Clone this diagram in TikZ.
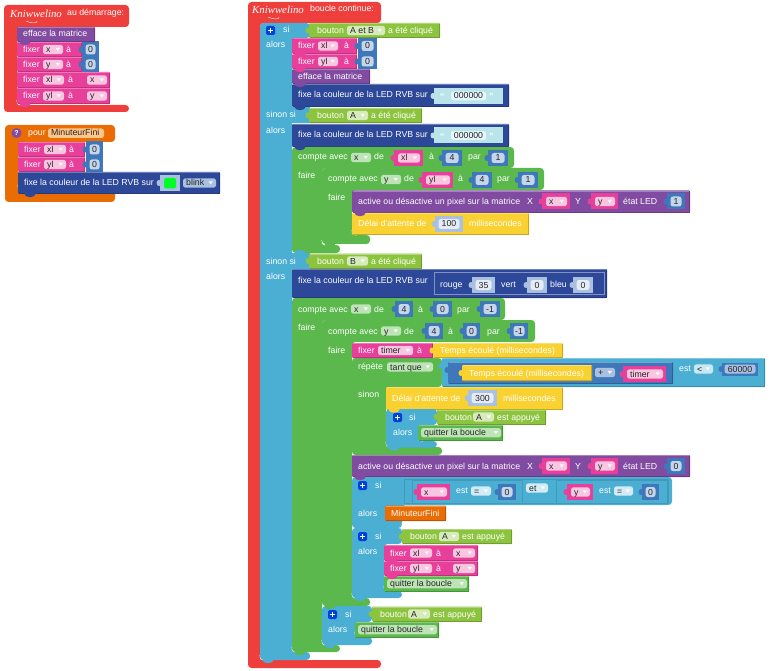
\documentclass[tikz,border=0pt]{standalone}
\usepackage{fontspec}
\setmainfont{Liberation Sans}
\newfontfamily\logofont{Liberation Serif}
\usepackage{tikz}
\definecolor{kred}{HTML}{EF3F3C}
\definecolor{kcyan}{HTML}{4BAED3}
\definecolor{kgreen}{HTML}{5BB84C}
\definecolor{klime}{HTML}{8DC43F}
\definecolor{kpink}{HTML}{E8409A}
\definecolor{kpurple}{HTML}{804BA0}
\definecolor{kblue}{HTML}{2D4899}
\definecolor{kyellow}{HTML}{F9D130}
\definecolor{korange}{HTML}{E96C05}
\definecolor{knum}{HTML}{3F78BA}
\definecolor{knumlight}{HTML}{A9C0E0}
\definecolor{khex}{HTML}{B8E4EA}
\tikzset{
  lbl/.style={anchor=base west, inner sep=0pt, text=white, font=\fontsize{8.75}{10}\selectfont},
  fieldlbl/.style={lbl, text=black!85},
  numlbl/.style={fieldlbl, anchor=base},
  logolbl/.style={lbl, font=\logofont\itshape\fontsize{10.8}{12}\selectfont},
  tri/.style={fill=white, opacity=0.85},
}
\newcounter{nd}
% text of a block
\newcommand{\txt}[3]{\stepcounter{nd}\node[lbl] (t\arabic{nd}) at ({#1},{#2+3}) {#3};}
% plain block with light top and dark bottom edge
\newcommand{\bk}[5]{\fill[#1,rounded corners=1pt] (#2,#3) rectangle (#4,#5);
  \draw[#1!70!white,line width=0.5pt] (#2+1,#3+.3) -- (#4-1,#3+.3);
  \draw[#1!80!black,line width=0.5pt] (#2+1,#5-.3) -- (#4-.3,#5-.3) -- (#4-.3,#3+1);}
% C shaped block: x1 y1 head-x head-y arm-x bar-top bar-bottom bar-x
\newcommand{\cblk}[9]{\fill[#1,rounded corners=3.5pt] (#2,#3) -- (#4,#3) -- (#4,#5) -- (#6,#5) -- (#6,#7)
    -- (#9,#7) -- (#9,#8) -- (#2,#8) -- cycle;
  \draw[white,line width=0.7pt] (#6,#7-5) .. controls (#6,#7-1) and (#6+1,#7) .. (#6+5,#7);}
\newcommand{\knob}[3]{\fill[#1] ({#2-1},{#3}) ellipse (2.5 and 3);}
\newcommand{\tabb}[3]{\fill[#1] (#2+8,#3) ellipse (5.5 and 3.2);}
% logo with its small stroke
\newcommand{\logob}[2]{\stepcounter{nd}\node[logolbl] (l\arabic{nd}) at (#1,#2+4) {Kniwwelino};
  \draw[white,line width=0.4pt] (#1+16,#2+7) .. controls (#1+22,#2+10) and (#1+28,#2+9) .. (#1+27,#2+7);}
% dropdown field
\newcommand{\dd}[5]{\stepcounter{nd}\fill[#1,rounded corners=2.5pt] ({#2},{#4-4.7}) rectangle ({#3},{#4+4.7});
  \fill[tri] ({#3-7.5},{#4-1.7}) -- ({#3-3},{#4-1.7}) -- ({#3-5.2},{#4+1.5}) -- cycle;
  \node[fieldlbl] (f\arabic{nd}) at ({#2+3},{#4+3}) {#5};}
% number block
\newcommand{\numb}[5][knum]{\stepcounter{nd}\knob{#1}{#2}{#4}\fill[#1] (#2,#4-8) rectangle (#3,#4+8);
  \fill[#1!30!white,rounded corners=2.5pt] (#2+3.5,#4-5) rectangle (#3-3.5,#4+5);
  \node[numlbl] (n\arabic{nd}) at ({(#2+#3)/2},#4+3) {#5};}
% variable block
\newcommand{\varb}[4]{\knob{kpink}{#1}{#3}\fill[kpink] (#1,#3-8) rectangle (#2,#3+8);
  \dd{kpink!30!white}{#1+4}{#2-3}{#3}{#4}}
% hexadecimal colour block
\newcommand{\hexb}[2]{\stepcounter{nd}\knob{khex}{434}{#2}\fill[khex] (434,#2-8) rectangle (503,#2+8);
  \fill[white!90!cyan,rounded corners=2.5pt] (451,#2-4.5) rectangle (486,#2+4.5);
  \node[numlbl] (n\arabic{nd}) at (468.5,#2+3) {#1};
  \node[lbl] (q\arabic{nd}) at (440,#2+4) {\textbf{“}};
  \node[lbl] (r\arabic{nd}) at (489,#2+4) {\textbf{”}};}
% plus button of an if block
\newcommand{\plusb}[2]{\fill[blue!70!cyan!85!black,rounded corners=1.5pt] (#1,#2) rectangle (#1+9,#2+9);
  \draw[white,line width=1.5pt] (#1+2,#2+4.5) -- (#1+7,#2+4.5) (#1+4.5,#2+2) -- (#1+4.5,#2+7);}
% block testing a button
\newcommand{\bouton}[7]{\knob{klime}{#1}{#3}\bk{klime}{#1}{#3-7.5}{#2}{#3+7.5}
  \txt{#1+8}{#3}{bouton}\dd{klime!35!white}{#4}{#5}{#3}{#6}\txt{#5+3}{#3}{#7}}
% block leaving the loop
\newcommand{\quitb}[3]{\bk{kgreen}{#1}{#3}{#2}{#3+15.5}
  \dd{kgreen!40!white}{#1+3}{#2-2}{#3+7.7}{quitter la boucle}}
% setter: x1 x2 y1 y2 field-x2 name a-x
\newcommand{\fixr}[7]{\bk{kpink}{#1}{#3}{#2}{#4}\txt{#1+6}{(#3+#4)/2}{fixer}
  \dd{kpink!30!white}{#1+26}{#5}{(#3+#4)/2}{#6}\txt{#7}{(#3+#4)/2}{à}}
% block switching a pixel
\newcommand{\pixel}[2]{\bk{kpurple}{352}{#1}{690}{#1+22}
  \txt{358}{#1+11}{active ou désactive un pixel sur la matrice}\txt{527}{#1+11}{X}
  \varb{542}{570}{#1+11}{x}\txt{575}{#1+11}{Y}\varb{591}{618}{#1+11}{y}
  \txt{623}{#1+11}{état LED}\numb{667}{685}{#1+11}{#2}}

\begin{document}
\begin{tikzpicture}[x=1pt,y=-1pt]
  \useasboundingbox (0,0) rectangle (771,671);

  % Start block (top left)
  \cblk{kred}{4}{5}{129}{27}{17}{105}{112}{129}
  \logob{10}{14}
  \txt{67}{13}{au démarrage:}
  \fixr{17}{82}{42}{57}{63}{x}{66}\numb{82}{99}{49.5}{0}
  \fixr{17}{82}{57}{72}{63}{y}{66}\numb{82}{99}{64.5}{0}
  \fixr{17}{110}{72}{88}{64}{xl}{68}\dd{kpink!30!white}{87}{107}{80}{x}
  \fixr{17}{110}{88}{104}{64}{yl}{68}\dd{kpink!30!white}{87}{107}{96}{y}
  \bk{kpurple}{17}{27}{95}{42}\txt{23}{34}{efface la matrice}
  \tabb{kpurple}{17}{42}\tabb{kpink}{17}{104}

  % Timer procedure
  \cblk{korange}{5}{125}{115}{142}{18}{190}{202}{115}
  \node[circle,fill=kpurple,text=white,inner sep=0pt,minimum size=10pt,font=\fontsize{7}{8}\selectfont\bfseries] (aide) at (16.5,133) {?};
  \txt{28}{133}{pour}
  \fill[orange!45!white,rounded corners=2.5pt] (48,128.5) rectangle (104,138);
  \node[fieldlbl] (minuteur) at (51,136) {MinuteurFini};
  \fixr{18}{85}{142}{157}{66}{xl}{69}\numb{86}{103}{149.5}{0}
  \fixr{18}{85}{157}{172}{66}{yl}{69}\numb{86}{103}{164.5}{0}
  \bk{kblue}{18}{172}{220}{194}\txt{24}{183}{fixe la couleur de la LED RVB sur}
  \knob{knumlight}{160}{183}\fill[knumlight] (160,175.5) rectangle (180,191);
  \fill[green!85!cyan,rounded corners=1.5pt] (164,178) rectangle (176,188.5);
  \dd{knumlight}{183}{216}{183}{blink}
  \tabb{kblue}{22}{194}

  % Main loop
  \cblk{kred}{248}{2}{381}{23}{260}{660}{668}{381}
  \logob{252}{10}
  \txt{310}{9}{boucle continue:}

  % Big if block
  \cblk{kcyan}{260}{23}{310}{38}{292}{652}{660}{310}
  \fill[kcyan] (292,107) rectangle (310,123);
  \fill[kcyan] (292,253) rectangle (310,269);
  \plusb{266}{26}\txt{283}{30}{si}\txt{266}{45}{alors}
  \bouton{309}{440}{30.5}{347}{385}{A et B}{a été cliqué}
  \fixr{292}{357}{38}{54}{338}{xl}{344}\numb{358}{377}{46}{0}
  \fixr{292}{357}{54}{69}{338}{yl}{344}\numb{358}{377}{61.5}{0}
  \bk{kpurple}{292}{69}{370}{84}\txt{298}{76.5}{efface la matrice}
  \bk{kblue}{292}{84}{509}{107}\txt{298}{95}{fixe la couleur de la LED RVB sur}
  \hexb{000000}{96}
  \tabb{kpink}{292}{54}\tabb{kpink}{292}{69}\tabb{kpurple}{292}{84}\tabb{kblue}{292}{107}

  \txt{266}{115}{sinon si}\txt{266}{131}{alors}
  \bouton{309}{422}{115.5}{347}{368}{A}{a été cliqué}
  \bk{kblue}{292}{124}{509}{147}\txt{298}{135}{fixe la couleur de la LED RVB sur}
  \hexb{000000}{135.5}

  % Counting loops of the second branch
  \cblk{kgreen}{292}{147}{514}{168}{322}{245}{253}{340}
  \txt{298}{157}{compte avec}\dd{kgreen!40!white}{351}{371}{157.5}{x}\txt{374}{157}{de}
  \varb{394}{423}{158}{xl}\txt{429}{157}{à}\numb{442}{462}{158}{4}\txt{468}{157}{par}\numb{488}{508}{158}{1}
  \txt{298}{176}{faire}
  \cblk{kgreen}{322}{168}{544}{190}{352}{235}{244}{370}
  \txt{328}{179}{compte avec}\dd{kgreen!40!white}{381}{401}{179.5}{y}\txt{404}{179}{de}
  \varb{422}{453}{180}{yl}\txt{458}{179}{à}\numb{472}{492}{180}{4}\txt{497}{179}{par}\numb{518}{538}{180}{1}
  \txt{328}{198}{faire}
  \pixel{190.5}{1}
  \bk{kyellow}{352}{213}{529}{235}\txt{358}{224}{Délai d'attente de}
  \numb[knumlight]{435}{463}{224}{100}\txt{469}{224}{millisecondes}
  \tabb{kblue}{292}{147}\tabb{kgreen}{322}{190}\tabb{kpurple}{352}{213}\tabb{kgreen}{322}{244}\tabb{kcyan}{292}{253}

  % Third branch
  \txt{266}{261}{sinon si}\txt{266}{276}{alors}
  \bouton{309}{422}{261}{347}{368}{B}{a été cliqué}
  \bk{kblue}{292}{269}{607}{298}\txt{298}{280}{fixe la couleur de la LED RVB sur}
  \draw[kblue!60!white,line width=0.5pt] (434,272) rectangle (604,294);
  \txt{440}{284}{rouge}\numb[knumlight]{472}{495}{285}{35}\txt{501}{284}{vert}
  \numb[knumlight]{527}{547}{285}{0}\txt{550}{284}{bleu}\numb[knumlight]{573}{593}{285}{0}

  % Counting loops of the third branch
  \cblk{kgreen}{292}{298}{505}{320}{322}{645}{652}{340}
  \txt{298}{309}{compte avec}\dd{kgreen!40!white}{351}{371}{309}{x}\txt{374}{309}{de}
  \numb{395}{413}{309}{4}\txt{418}{309}{à}\numb{433}{452}{309}{0}\txt{457}{309}{par}\numb{480}{500}{309}{-1}
  \txt{298}{327}{faire}
  \cblk{kgreen}{322}{320}{535}{342}{352}{598}{606}{370}
  \txt{328}{331}{compte avec}\dd{kgreen!40!white}{381}{401}{331}{y}\txt{404}{331}{de}
  \numb{425}{443}{331}{4}\txt{448}{331}{à}\numb{463}{480}{331}{0}\txt{487}{331}{par}\numb{510}{528}{331}{-1}
  \txt{328}{350}{faire}

  % Timer and waiting loop
  \cblk{kgreen}{352}{358}{442}{387}{386}{447}{455}{442}
  \fixr{352}{433}{343}{358}{413}{timer}{417}
  \knob{kyellow}{433}{350.5}\bk{kyellow}{433}{343}{563}{358}\txt{440}{350}{Temps écoulé (millisecondes)}
  \txt{358}{366}{répète}\dd{kgreen!40!white}{387}{433}{367}{tant que}\txt{358}{394}{sinon}
  \knob{kcyan}{442}{366}\bk{kcyan}{442}{358}{765}{387}
  \knob{knum}{448}{370}\bk{knum}{448}{362}{673}{384}
  \knob{kyellow}{462}{373}\bk{kyellow}{462}{365}{592}{381}\txt{469}{373}{Temps écoulé (millisecondes)}
  \dd{knumlight}{595}{615}{372.5}{+}\varb{623}{666}{374}{timer}
  \txt{679}{368}{est}\dd{kcyan!30!white}{694}{713}{369}{<}
  \knob{knum}{722}{369}\fill[knum] (722,362.5) rectangle (758,375.5);
  \fill[knumlight,rounded corners=2.5pt] (724.5,364.5) rectangle (755.5,373.5);
  \node[numlbl] (duree) at (740,372) {60000};
  \bk{kyellow}{386}{387}{563}{409.5}\txt{392}{398}{Délai d'attente de}
  \numb[knumlight]{468}{497}{398}{300}\txt{503}{398}{millisecondes}
  \cblk{kcyan}{386}{409}{437}{425}{418}{441}{447.5}{437}
  \fill[kcyan] (386,425) rectangle (418,441);
  \plusb{393}{413}\txt{409}{417}{si}\txt{393}{432}{alors}
  \bouton{437}{546}{417}{473}{494}{A}{est appuyé}
  \quitb{418}{503}{425}
  \tabb{kyellow}{386}{409.5}\tabb{kcyan}{386}{447.5}

  \pixel{455}{0}

  % If with two comparisons
  \cblk{kcyan}{352}{477}{672}{505}{402}{528}{528}{402}
  \plusb{358}{481}\txt{375}{485}{si}\txt{358}{513}{alors}
  \draw[kcyan!88!black,line width=0.4pt] (404,479) rectangle (668,503) (412,480) rectangle (522,503) (556,480) rectangle (667,503);
  \varb{417}{450}{492}{x}\txt{456}{490}{est}\dd{kcyan!25!white}{471}{491}{491}{=}\numb{498}{516}{492}{0}
  \dd{kcyan!25!white}{526}{548}{488}{et}
  \varb{567}{593}{492}{y}\txt{599}{490}{est}\dd{kcyan!25!white}{614}{633}{491}{=}\numb{642}{659}{492}{0}
  \bk{korange}{385}{505.5}{446}{521}\txt{391}{513}{MinuteurFini}
  \tabb{kpurple}{352}{477}

  % If leaving with the current pixel
  \cblk{kcyan}{352}{528}{402}{544}{384}{591}{598}{402}
  \plusb{358}{532}\txt{375}{536}{si}\txt{358}{551}{alors}
  \bouton{402}{512}{536.5}{439}{459}{A}{est appuyé}
  \fixr{384}{478}{545}{561}{432}{xl}{436}\dd{kpink!30!white}{453}{475}{553}{x}
  \fixr{384}{478}{561}{576}{432}{yl}{436}\dd{kpink!30!white}{453}{475}{568.5}{y}
  \quitb{384}{469}{576}
  \tabb{kpink}{384}{561}\tabb{kpink}{384}{576}\tabb{kcyan}{352}{528}\tabb{kcyan}{352}{598}

  % Last if of the outer loop
  \cblk{kcyan}{322}{606}{372}{622}{355}{637}{645}{372}
  \plusb{328}{610}\txt{345}{614}{si}\txt{328}{629}{alors}
  \bouton{372}{482}{614}{408}{430}{A}{est appuyé}
  \quitb{355}{439}{622}
  \tabb{kgreen}{322}{606}\tabb{kcyan}{322}{645}\tabb{kgreen}{292}{652}\tabb{kcyan}{260}{660}
\end{tikzpicture}
\end{document}
